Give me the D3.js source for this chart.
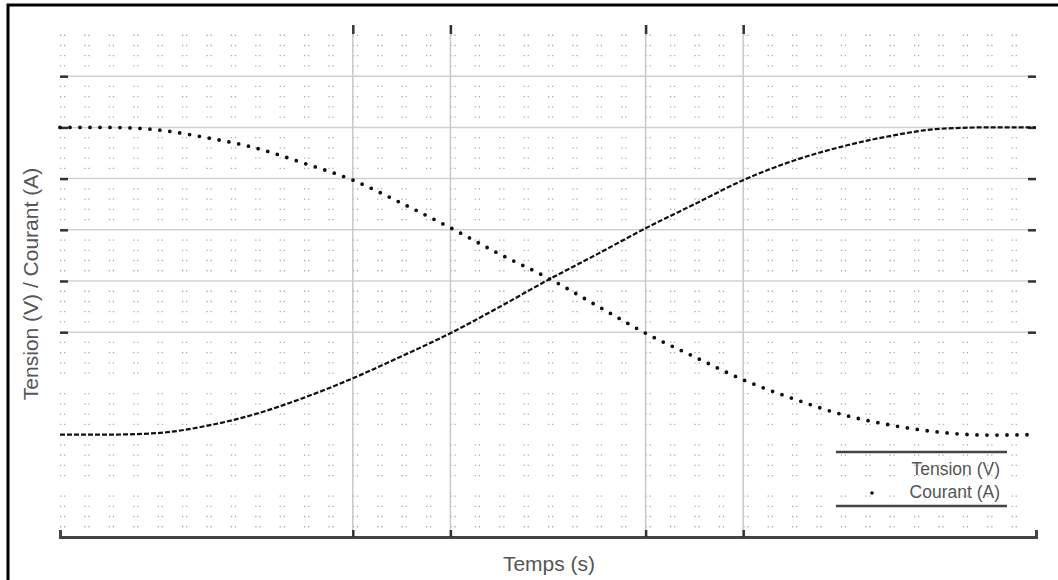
<!DOCTYPE html>
<html>
<head>
<meta charset="utf-8">
<script src="https://cdn.jsdelivr.net/npm/d3@7"></script>
<style>
  body { margin: 0; background: #fff; }
  text { font-family: "Liberation Sans", Arial, sans-serif; fill: #555; }
</style>
</head>
<body>
<div id="chart"></div>
<script>
// data
var temps = [0, 0.5, 1, 1.5, 2, 2.5, 3, 3.5, 4, 4.5, 5, 5.5, 6, 6.5, 7, 7.5, 8, 8.5, 9, 9.5, 10];
var tension = [2.0, 2.0, 2.03, 2.17, 2.4, 2.72, 3.1, 3.53, 3.98, 4.49, 5.02, 5.52, 6.03, 6.5, 6.97, 7.34, 7.62, 7.83, 7.97, 8.0, 8.0];
var courant = [8.0, 8.0, 7.95, 7.8, 7.6, 7.3, 6.97, 6.52, 6.04, 5.53, 5.06, 4.52, 3.98, 3.52, 3.07, 2.71, 2.4, 2.19, 2.05, 1.99, 2.0];
var xTicks = [3, 4, 6, 7];
var yTicks = [4, 5, 6, 7, 8, 9];
var series = ["Tension (V)", "Courant (A)"];

var svgWidth = 1058;
var svgHeight = 580;

var margin = { top: 25, right: 22, bottom: 43, left: 60 };
var width = svgWidth - margin.left - margin.right;
var height = svgHeight - margin.top - margin.bottom;

var svg = d3.select("#chart")
    .append("svg")
    .attr("width", svgWidth)
    .attr("height", svgHeight);

// outer frame (top and left edges only)
svg.append("path")
    .attr("d", "M8,580 V5 H1058")
    .attr("fill", "none")
    .attr("stroke", "#000")
    .attr("stroke-width", 3);

var g = svg.append("g")
    .attr("transform", `translate(${margin.left}, ${margin.top})`);

var x = d3.scaleLinear().domain([0, 10]).range([0, width]);
var y = d3.scaleLinear().domain([0, 10]).range([height, 0]);

// minor dotted grid
var minorY = d3.range(1, 50).map(d => d / 5).filter(d => Math.abs(d - Math.round(d)) > 0.01);
g.append("g")
    .selectAll("line")
    .data(minorY)
    .enter()
    .append("line")
    .attr("x1", 0)
    .attr("x2", width)
    .attr("y1", d => y(d))
    .attr("y2", d => y(d))
    .attr("stroke", "#aaa")
    .attr("stroke-width", 1.3)
    .attr("stroke-dasharray", "1.3,2.7,1.3,19.1");

// major grid lines
g.append("g")
    .selectAll("line")
    .data(yTicks)
    .enter()
    .append("line")
    .attr("x1", 0)
    .attr("x2", width)
    .attr("y1", d => y(d))
    .attr("y2", d => y(d))
    .attr("stroke", "#d0d0d0")
    .attr("stroke-width", 1.5);

g.append("g")
    .selectAll("line")
    .data(xTicks)
    .enter()
    .append("line")
    .attr("x1", d => x(d))
    .attr("x2", d => x(d))
    .attr("y1", 0)
    .attr("y2", height)
    .attr("stroke", "#c8c8c8")
    .attr("stroke-width", 1.5);

// axes: bottom line with inward ticks, top ticks, left and right ticks
var bottomAxis = d3.axisBottom(x).tickValues(xTicks).tickSize(-7).tickFormat("");
var topAxis = d3.axisTop(x).tickValues(xTicks).tickSize(-9).tickFormat("");
var leftAxis = d3.axisLeft(y).tickValues(yTicks).tickSize(-8).tickFormat("");
var rightAxis = d3.axisRight(y).tickValues(yTicks).tickSize(-8).tickFormat("");

var xAxis = g.append("g")
    .attr("transform", `translate(0, ${height})`)
    .call(bottomAxis);
xAxis.select(".domain").attr("stroke", "#444").attr("stroke-width", 3);

var tAxis = g.append("g").call(topAxis);
var lAxis = g.append("g").call(leftAxis);
var rAxis = g.append("g").attr("transform", `translate(${width}, 0)`).call(rightAxis);
[tAxis, lAxis, rAxis].forEach(a => a.select(".domain").remove());
[xAxis, tAxis, lAxis, rAxis].forEach(a => a.selectAll(".tick line").attr("stroke", "#333").attr("stroke-width", 2.5));

// curves
var line = d3.line()
    .x(d => x(d[0]))
    .y(d => y(d[1]))
    .curve(d3.curveMonotoneX);

g.append("path")
    .datum(temps.map((t, i) => [t, tension[i]]))
    .attr("d", line)
    .attr("fill", "none")
    .attr("stroke", "#111")
    .attr("stroke-width", 2.2)
    .attr("stroke-dasharray", "5,2");

g.append("path")
    .datum(temps.map((t, i) => [t, courant[i]]))
    .attr("d", line)
    .attr("fill", "none")
    .attr("stroke", "#111")
    .attr("stroke-width", 3.8)
    .attr("stroke-linecap", "round")
    .attr("stroke-dasharray", "0,10");

// axis labels
svg.append("text")
    .attr("x", 549)
    .attr("y", 571)
    .attr("text-anchor", "middle")
    .style("font-size", "21px")
    .text("Temps (s)");

svg.append("text")
    .attr("transform", "rotate(-90)")
    .attr("x", -284)
    .attr("y", 38)
    .attr("text-anchor", "middle")
    .style("font-size", "21px")
    .text("Tension (V) / Courant (A)");

// legend
var legend = svg.append("g");
legend.append("line")
    .attr("x1", 836).attr("x2", 1007)
    .attr("y1", 452).attr("y2", 452)
    .attr("stroke", "#444").attr("stroke-width", 2.5);
legend.append("line")
    .attr("x1", 836).attr("x2", 1007)
    .attr("y1", 506).attr("y2", 506)
    .attr("stroke", "#444").attr("stroke-width", 2.5);

legend.selectAll("text")
    .data(series)
    .enter()
    .append("text")
    .attr("x", 1000)
    .attr("y", (d, i) => 475 + i * 23)
    .attr("text-anchor", "end")
    .style("font-size", "17.5px")
    .text(d => d);

legend.append("circle")
    .attr("cx", 872)
    .attr("cy", 493)
    .attr("r", 1.8)
    .attr("fill", "#111");
</script>
</body>
</html>
